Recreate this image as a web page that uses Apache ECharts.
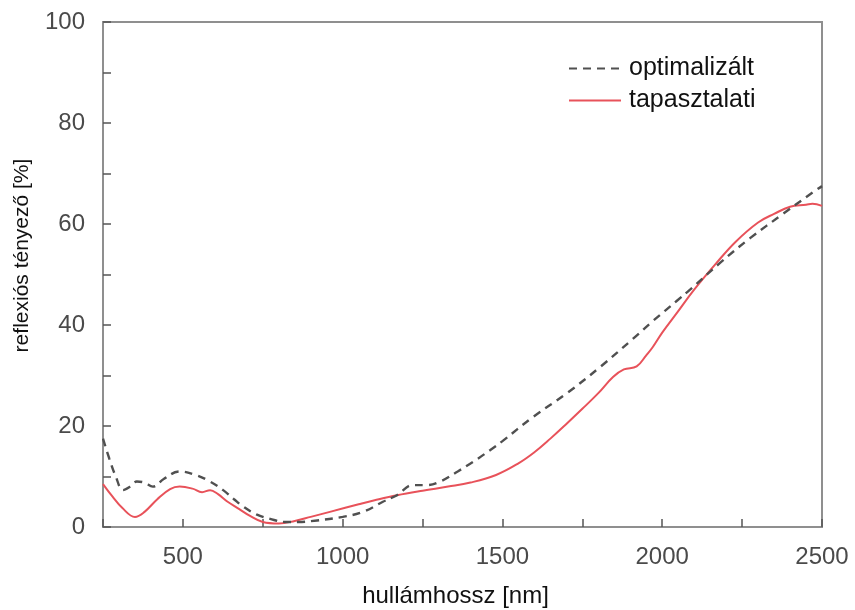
<!DOCTYPE html>
<html>
<head>
<meta charset="utf-8">
<script src="https://cdn.jsdelivr.net/npm/echarts@6/dist/echarts.min.js"></script>
<style>html,body{margin:0;padding:0;background:#fff}#c{width:855px;height:610px}</style>
</head>
<body>
<div id="c"></div>
<script>
const optX = [250,270,290,313,335,356,380,406,440,490,540,585,626,660,690,730,773,820,860,920,1000,1064,1126,1170,1220,1264,1305,1360,1408,1461,1500,1596,1702,1806,1909,1971,2046,2087,2181,2275,2378,2472,2500];
const optY = [17.5,13.5,10,7.3,8,9,8.8,8,9.5,11,10.3,9,7.3,5.5,4,2.5,1.6,1,1,1.3,2,3,5,6.3,8.3,8.3,9,11,12.9,15.2,17,21.8,26.5,31.7,37.3,40.8,44.8,47,52.3,57.2,62,66.3,67.5];
const expX = [250,280,310,350,380,420,460,490,530,560,585,610,640,670,710,750,800,850,900,960,1050,1100,1170,1250,1330,1400,1480,1550,1600,1650,1700,1750,1800,1846,1880,1920,1950,1970,2000,2046,2100,2170,2230,2300,2350,2400,2450,2470,2500];
const expY = [8.5,6,3.8,2,3,5.5,7.5,8,7.6,6.9,7.3,6.5,5,3.8,2.2,1,0.7,1.2,2,3,4.5,5.3,6.3,7.2,8,8.8,10.3,12.6,14.8,17.5,20.4,23.4,26.5,29.7,31.2,31.8,34,35.6,38.5,42.4,47,52.3,56.5,60.3,62,63.4,63.8,64,63.6];
const seriesNames = ['optimalizált','tapasztalati'];
const xName = 'hullámhossz [nm]';
const yName = 'reflexiós tényező [%]';

const pair = (xs, ys) => xs.map((x, i) => [x, ys[i]]);
const chart = echarts.init(document.getElementById('c'));
const font = 'Liberation Sans, Arial, sans-serif';
const frame = '#8f8f8f';
chart.setOption({
  animation: false,
  textStyle: {fontFamily: font},
  grid: {left: 103, right: 33, top: 22, bottom: 83, show: true, borderColor: frame, borderWidth: 2,
         containLabel: false, outerBoundsMode: 'none'},
  legend: {
    orient: 'vertical', left: 563, top: 51, itemWidth: 52, itemHeight: 14, itemGap: 7,
    itemStyle: {opacity: 0},
    textStyle: {fontSize: 25, color: '#111', fontFamily: font, padding: [0,0,0,3]},
    data: seriesNames
  },
  xAxis: {
    type: 'value', min: 250, max: 2500, interval: 250,
    name: xName, nameLocation: 'middle', nameGap: 57,
    nameTextStyle: {fontSize: 24, color: '#111', padding: [0, 14, 0, 0]},
    axisLine: {lineStyle: {color: frame, width: 2}},
    axisTick: {inside: true, length: 8, lineStyle: {color: '#555', width: 1.5}},
    axisLabel: {fontSize: 24, color: '#4a4a4a', margin: 18,
      formatter: v => (v % 500 === 0 ? String(v) : '')},
    splitLine: {show: false}
  },
  yAxis: {
    type: 'value', min: 0, max: 100, interval: 10,
    name: yName, nameLocation: 'middle', nameGap: 70,
    nameTextStyle: {fontSize: 21, color: '#111', padding: [0, 0, 0, 38]},
    axisLine: {lineStyle: {color: frame, width: 2}},
    axisTick: {inside: true, length: 8, lineStyle: {color: '#555', width: 1.5}},
    axisLabel: {fontSize: 24, color: '#4a4a4a', margin: 18,
      formatter: v => (v % 20 === 0 ? String(v) : '')},
    splitLine: {show: false}
  },
  series: [
    {name: seriesNames[0], type: 'line', smooth: 0.4, symbol: 'none', data: pair(optX, optY),
     lineStyle: {color: '#505050', width: 2.4, type: [8, 6]}, itemStyle: {color: '#505050'}, z: 3},
    {name: seriesNames[1], type: 'line', smooth: 0.4, symbol: 'none', data: pair(expX, expY),
     lineStyle: {color: '#e8525a', width: 2}, itemStyle: {color: '#e8525a'}, z: 2}
  ]
});
</script>
</body>
</html>
